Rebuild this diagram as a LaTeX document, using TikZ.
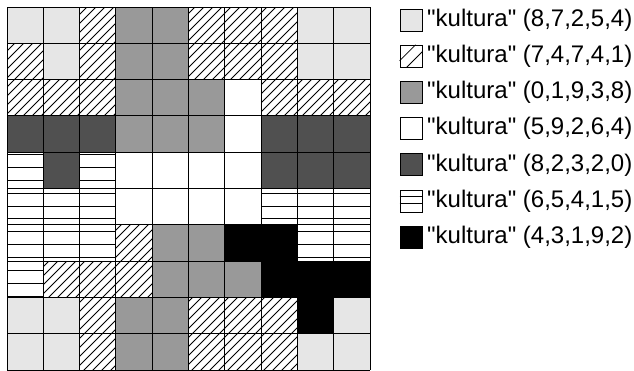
\documentclass[tikz,border=0pt]{standalone}
\usepackage{fontspec}
\setmainfont{Liberation Sans}[Ligatures=TeXOff]
\usetikzlibrary{calc}
\definecolor{lgray}{HTML}{E6E6E6}
\definecolor{mgray}{HTML}{999999}
\definecolor{dgray}{HTML}{505050}
\begin{document}
\begin{tikzpicture}[x=1pt,y=-1pt,
  hatchline/.style={draw=black,line width=0.8pt},
  stripeline/.style={draw=black,line width=0.9pt},
  cellL/.style={fill=lgray},
  cellG/.style={fill=mgray},
  cellD/.style={fill=dgray},
  cellW/.style={fill=white},
  cellB/.style={fill=black},
  cellH/.style={fill=white,path picture={\foreach \a in {-380,-371,...,380} \draw[hatchline] (\a,375) -- ({\a+375},0);}},
  cellS/.style={fill=white,path picture={\foreach \yy in {141.5,154.4,...,370} \draw[stripeline] (0,\yy) -- (380,\yy);}},
  legH/.style={fill=white},
  legS/.style={fill=white},
  legL/.style={fill=lgray},
  legG/.style={fill=mgray},
  legD/.style={fill=dgray},
  legW/.style={fill=white},
  legB/.style={fill=black},
  gridline/.style={draw=black,line width=0.9pt},
  swatch/.style={draw=black,line width=0.8pt,minimum size=22pt,inner sep=0pt},
  legtext/.style={anchor=west,inner sep=0pt,font=\fontsize{24}{28}\selectfont}
]
\useasboundingbox (0,0) rectangle (634,370);
\fill[white] (0,0) rectangle (634,370);
% cells
\foreach \row [count=\r from 0] in {
  {L,L,H,G,G,H,H,H,L,L},
  {H,L,H,G,G,H,H,H,L,L},
  {H,H,H,G,G,G,W,H,H,H},
  {D,D,D,G,G,G,W,D,D,D},
  {S,D,S,W,W,W,W,D,D,D},
  {S,S,S,W,W,W,W,S,S,S},
  {S,S,S,H,G,G,B,B,S,S},
  {S,H,H,H,G,G,G,B,B,B},
  {L,L,H,G,G,H,H,H,B,L},
  {L,L,H,G,G,H,H,H,L,L}} {
  \foreach \c [count=\k from 0] in \row {
    \path[cell\c] ({7+\k*36.3},{7+\r*36.3}) rectangle ({7+(\k+1)*36.3},{7+(\r+1)*36.3});
  }
}
% grid lines
\foreach \i in {0,...,10} {
  \draw[gridline] ({7+\i*36.3},7) -- ({7+\i*36.3},370);
  \draw[gridline] (7,{7+\i*36.3}) -- (370,{7+\i*36.3});
}
% legend
\foreach \s/\t [count=\i from 0] in {L/{(8,7,2,5,4)},H/{(7,4,7,4,1)},G/{(0,1,9,3,8)},W/{(5,9,2,6,4)},D/{(8,2,3,2,0)},S/{(6,5,4,1,5)},B/{(4,3,1,9,2)}} {
  \node[swatch,leg\s] (sw\i) at (411,{20+\i*36.2}) {};
  \node[legtext] (lt\i) at (427,{20+\i*36.2}) {"kultura" \t};
}
\draw[hatchline] ($(sw1.north west)!0.7!(sw1.south west)$) -- ($(sw1.north west)!0.7!(sw1.north east)$);
\draw[hatchline] ($(sw1.south west)!0.3!(sw1.south east)$) -- ($(sw1.south east)!0.7!(sw1.north east)$);
\draw[hatchline] ($(sw5.north west)!0.3!(sw5.south west)$) -- ($(sw5.north east)!0.3!(sw5.south east)$);
\draw[hatchline] ($(sw5.north west)!0.62!(sw5.south west)$) -- ($(sw5.north east)!0.62!(sw5.south east)$);
\end{tikzpicture}
\end{document}
